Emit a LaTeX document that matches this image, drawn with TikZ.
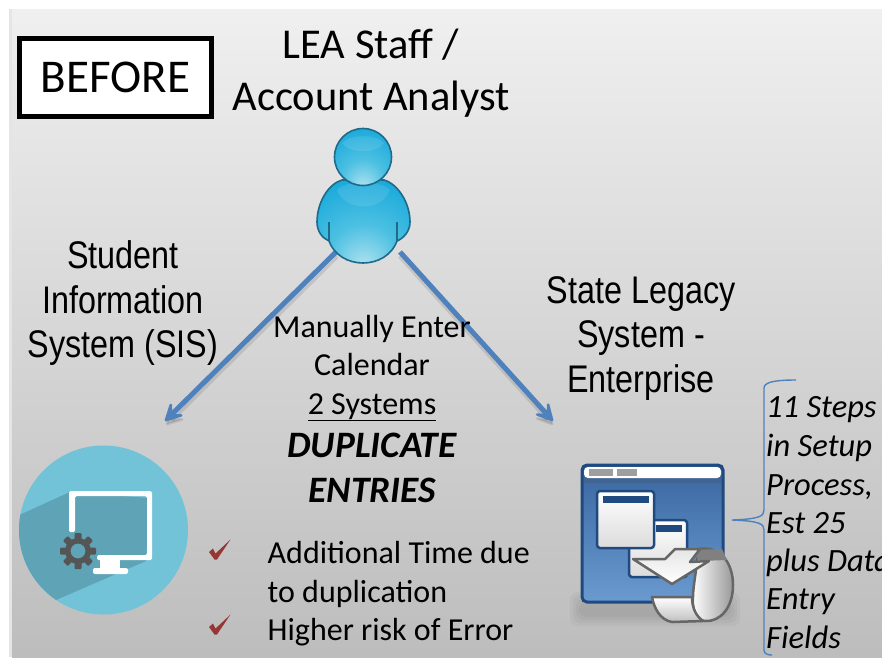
\documentclass[tikz,border=0pt]{standalone}
\usepackage{fontspec}
\setmainfont{Carlito}
\newfontfamily\narrowf[FakeStretch=0.84]{Liberation Sans}
\usetikzlibrary{arrows.meta,calc}
\definecolor{arrowblue}{HTML}{4F81BD}
\definecolor{tealbg}{HTML}{72C2D8}
\definecolor{tealdk}{HTML}{5FA3B6}
\definecolor{gearc}{HTML}{555555}
\definecolor{chk}{HTML}{953735}
\definecolor{persond}{HTML}{1F6A88}
\definecolor{personm}{HTML}{12A6DA}
\definecolor{personn}{HTML}{4CC0E2}
\definecolor{personl}{HTML}{B4E4F0}
\definecolor{winb}{HTML}{1F4A80}
\definecolor{wintop}{HTML}{3A66A0}
\definecolor{winbot}{HTML}{6A9AD0}
\pgfdeclareradialshading{persshade}{\pgfpoint{0bp}{-28bp}}{color(0bp)=(personl); color(18bp)=(personn); color(40bp)=(personm); color(60bp)=(personm)}
\tikzset{
 caltext/.style={align=center,text=black,inner sep=0pt,font=\fontsize{42.5}{52}\selectfont},
 midtext/.style={align=center,text=black,inner sep=0pt,font=\fontsize{32}{38.5}\selectfont},
 arialtext/.style={align=center,text=black,inner sep=0pt,font=\narrowf\fontsize{38.5}{44.5}\selectfont},
 bitext/.style={align=center,text=black,inner sep=0pt,font=\bfseries\itshape\fontsize{37.3}{45}\selectfont},
 bultext/.style={anchor=base west,text=black,inner sep=0pt,font=\fontsize{32}{38.5}\selectfont},
 sidetext/.style={anchor=base west,text=black,inner sep=0pt,font=\itshape\fontsize{32.5}{38.5}\selectfont},
 flow/.style={draw=arrowblue,line width=5pt,-{Stealth[length=24pt,width=25pt,inset=13pt,round,line width=2.5pt]}},
 flowshadow/.style={draw=black,opacity=.10,line width=5pt,-{Stealth[length=24pt,width=25pt,inset=13pt,round,line width=2.5pt]}},
 check/.style={draw=none,fill=chk},
 swirl/.style={draw=black!60,line width=2.5pt,line join=round},
}
\newcommand{\chkmark}[1]{\fill[check,shift={(#1)}] (0,0) -- (4,-3.5) -- (6.5,1.5) -- (21.5,-12.5) -- (8,7.5) -- (5.5,7.5) -- cycle;}
\begin{document}
\begin{tikzpicture}[x=1pt,y=-1pt]
\useasboundingbox (0,0) rectangle (882,657);
\fill[white] (0,0) rectangle (882,657);
\fill[black!10] (9,9) rectangle (12,657);
\shade[top color=black!6,bottom color=black!26] (12,9) rectangle (882,657);
% BEFORE box
\node[draw=black,fill=white,line width=4.5pt,minimum width=192pt,minimum height=78pt,inner sep=0pt,font=\fontsize{47}{52}\selectfont] (before) at (115.5,77.5) {\raisebox{-1pt}{BEFORE}};
\node[caltext] (title) at (371,73) {LEA Staff /\\Account Analyst};
% connector ends
\coordinate (pl) at (336,252);
\coordinate (pr) at (400,252);
\coordinate (tl) at (165,421);
\coordinate (tr) at (553,421);
\draw[flowshadow] ($(pl)+(1,4)$) -- ($(tl)+(1,4)$);
\draw[flowshadow] ($(pr)+(0,4)$) -- ($(tr)+(0,4)$);
\draw[flow] (pl) -- (tl);
\draw[flow] (pr) -- (tr);
% person
\path[shading=persshade,draw=persond,line width=1.6pt] (342,180) .. controls (328,184) and (317,203) .. (317,222) .. controls (317,231) and (322,238) .. (329,241) .. controls (334,255) and (348,263) .. (363,263) .. controls (378,263) and (392,255) .. (397,241) .. controls (404,238) and (410,231) .. (410,222) .. controls (410,203) and (398,184) .. (384,180) -- cycle;
\draw[persond,line width=1.2pt] (329,222) -- (329,241) (397,222) -- (397,241);
\path[fill=white,fill opacity=.10] (337,190) .. controls (345,180) and (382,180) .. (390,190) .. controls (382,212) and (345,212) .. (337,190) -- cycle;
\draw[persond,line width=1.6pt,shading=persshade] (363,157) circle[radius=28.5];
\path[fill=white,fill opacity=.10] (342,143) .. controls (350,134) and (376,134) .. (384,143) .. controls (376,154) and (350,154) .. (342,143) -- cycle;
% labels
\node[arialtext] (sis) at (123,303.5) {Student\\Information\\System (SIS)};
\node[arialtext] (state) at (641,338.5) {State Legacy\\System -\\Enterprise};
\node[midtext] (manual) at (372,368) {Manually Enter\\Calendar\\\underline{2 Systems}};
\node[bitext] (dup) at (372,468) {DUPLICATE\\ENTRIES};
% computer icon
\fill[tealbg] (103.5,530) circle[radius=84.5];
\begin{scope}
 \clip (103.5,530) circle[radius=84.5];
 \fill[tealdk] (70,492) -- (15,517) -- (10,620) -- (56,600) -- (146,561) -- (150,498) -- cycle;
\end{scope}
\fill[white,even odd rule,rounded corners=1.5pt] (69,491) -- (152,491) -- (152,560) -- (97,560) -- (97,555) -- (147,555) -- (147,496) -- (75,496) -- (75,532) -- (69,532) -- cycle;
\fill[white] (100,559) rectangle (120,570);
\fill[white,rounded corners=2pt] (93,568) rectangle (128,574);
\fill[gearc,even odd rule] (78,551) circle[radius=7.5] (78,551) circle[radius=13];
\foreach \a in {0,45,...,315}{
 \fill[gearc,rotate around={\a:(78,551)},rounded corners=1pt] (74.5,533) rectangle (81.5,540);
}
% checks
\chkmark{209,552}
\chkmark{209,627}
\node[bultext] (b1) at (267.5,563) {Additional Time due};
\node[bultext] (b2) at (267.5,602) {to duplication};
\node[bultext] (b3) at (267.5,640) {Higher risk of Error};
% window icon
\foreach \d in {0,3,6,9}{
 \fill[black,opacity=.03,rounded corners=8pt] (570+\d,592+\d) rectangle (740-\d,626-\d);
}
\shade[top color=wintop,bottom color=winbot,draw=winb,line width=3pt,rounded corners=5pt] (582,465) rectangle (723,602);
\fill[winb!85!white] (584,477) rectangle (721,483);
\fill[white,rounded corners=4pt] (584,467) rectangle (721,478);
\fill[black!38] (589,469) rectangle (613,476);
\fill[black!38] (617,469) rectangle (637,476);
\shade[draw=winb,line width=2.5pt,rounded corners=3pt,top color=white,bottom color=black!14] (629,520) rectangle (687,577);
\fill[winb] (656,525) rectangle (682,532);
\shade[draw=winb,line width=2.5pt,rounded corners=3pt,top color=white,bottom color=black!14] (597,491) rectangle (654,548);
\fill[winb] (603,496) rectangle (649,503);
% swirl
\shade[swirl,left color=white,right color=black!40] (698,549) .. controls (722,545) and (733,565) .. (733,585) .. controls (733,608) and (720,622) .. (705,621) .. controls (695,620) and (692,608) .. (693,597) .. controls (693,585) and (697,570) .. (698,549) -- cycle;
\fill[black!50] (690,550) -- (722,549) -- (727,560) -- (700,561) -- cycle;
\shade[swirl,top color=white,bottom color=black!25] (652,597) -- (692,597) .. controls (692,608) and (696,616) .. (703,621) -- (672,622) .. controls (660,620) and (654,608) .. (652,597) -- cycle;
\shade[swirl,top color=black!10,bottom color=white] (633,559) -- (665,559) -- (675,549) -- (700,549) -- (690,562) -- (709,561) -- (672,584) -- cycle;
% brace
\coordinate (bl) at (732,520);
\coordinate (bt) at (796,380);
\draw[arrowblue,line width=1.4pt] (bt) .. controls (780,380) and (764,381) .. (764,388) -- (764,510) .. controls (764,516) and (760,519) .. (bl) .. controls (760,521) and (764,524) .. (764,530) -- (764,650) .. controls (764,654) and (768,655) .. (772,655);
% side text, cut at the right edge
\begin{scope}
\clip (0,0) rectangle (882,657);
\node[sidetext] (s1) at (766,417) {11 Steps};
\node[sidetext] (s2) at (766,456) {in Setup};
\node[sidetext] (s3) at (766,495) {Process,};
\node[sidetext] (s4) at (766,533) {Est 25};
\node[sidetext] (s5) at (766,571) {plus Data};
\node[sidetext] (s6) at (766,609) {Entry};
\node[sidetext] (s7) at (766,648) {Fields};
\end{scope}
\end{tikzpicture}
\end{document}
